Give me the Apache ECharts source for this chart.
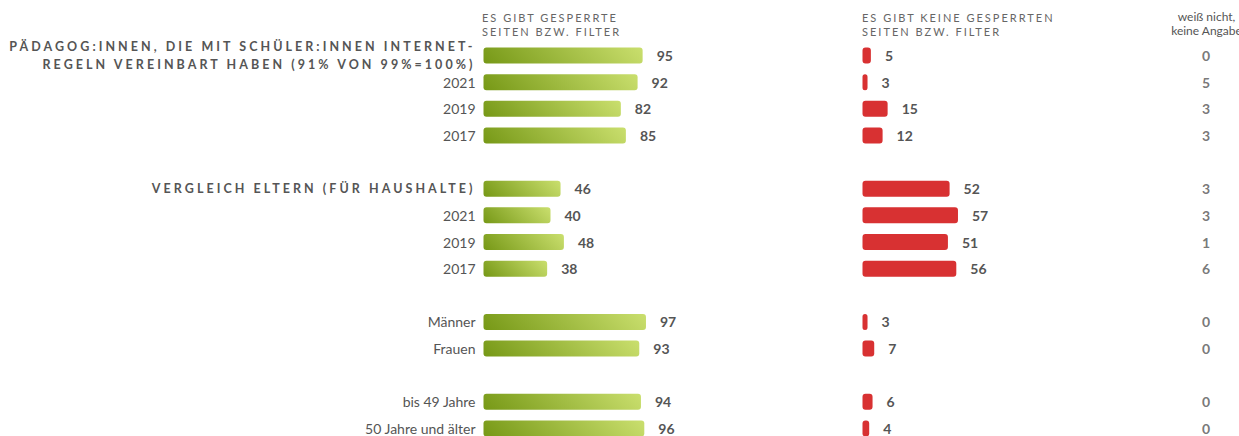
<!DOCTYPE html>
<html lang="de">
<head>
<meta charset="utf-8">
<title>Gesperrte Seiten bzw. Filter</title>
<script src="https://cdn.jsdelivr.net/npm/echarts@6/dist/echarts.min.js"></script>
<style>
  html, body { margin: 0; padding: 0; background: #ffffff; }
  #chart { width: 1239px; height: 436px; }
</style>
</head>
<body>
<div id="chart"></div>
<script>
// Row labels (empty strings are spacer rows between the groups)
const rowLabels = [
  'PÄDAGOG:INNEN, DIE MIT SCHÜLER:INNEN INTERNET-\nREGELN VEREINBART HABEN (91% VON 99%=100%)',
  '2021', '2019', '2017',
  '',
  'VERGLEICH ELTERN (FÜR HAUSHALTE)',
  '2021', '2019', '2017',
  '',
  'Männer', 'Frauen',
  '',
  'bis 49 Jahre', '50 Jahre und älter'
];
// Rows printed in bold capitals
const headlineRows = [0, 5];

// Column headings
const headGesperrt = 'ES GIBT GESPERRTE\nSEITEN BZW. FILTER';
const headKeine = 'ES GIBT KEINE GESPERRTEN\nSEITEN BZW. FILTER';
const headWeiss = 'weiß nicht,\nkeine Angabe';

// Pädagog:innen (gesamt, 2021, 2019, 2017)
const paedGesperrt = [95, 92, 82, 85];
const paedKeine    = [5, 3, 15, 12];
const paedWeiss    = [0, 5, 3, 3];

// Eltern (gesamt, 2021, 2019, 2017)
const elternGesperrt = [46, 40, 48, 38];
const elternKeine    = [52, 57, 51, 56];
const elternWeiss    = [3, 3, 1, 6];

// Geschlecht (Männer, Frauen)
const geschlGesperrt = [97, 93];
const geschlKeine    = [3, 7];
const geschlWeiss    = [0, 0];

// Alter (bis 49, 50+)
const alterGesperrt = [94, 96];
const alterKeine    = [6, 4];
const alterWeiss    = [0, 0];

// Joins the groups with an empty slot for each spacer row
function withGaps(groups) {
  const out = [];
  groups.forEach((g, i) => {
    if (i > 0) out.push('-');
    g.forEach(v => out.push(v));
  });
  return out;
}

const gesperrt = withGaps([paedGesperrt, elternGesperrt, geschlGesperrt, alterGesperrt]);
const keine    = withGaps([paedKeine, elternKeine, geschlKeine, alterKeine]);
const weiss    = withGaps([paedWeiss, elternWeiss, geschlWeiss, alterWeiss]);

const FONT = 'Lato, "Open Sans", sans-serif';
const TEXT = '#555555';

// Rows sit on the category ticks: first row centre to last row centre
const firstRowY = 55.5;
const lastRowY = 428.5;
const plotWidth = 167.5;
const barHeight = 16;

const grids = [
  { left: 483.5, width: plotWidth },
  { left: 862.5, width: plotWidth },
  { left: 1196, width: 20 }
].map(g => Object.assign(g, {
  top: firstRowY,
  height: lastRowY - firstRowY,
  outerBoundsMode: 'none',
  containLabel: false
}));

function hiddenValueAxis(gridIndex, max) {
  return {
    type: 'value', gridIndex, min: 0, max,
    show: false,
    axisLine: { show: false }, axisTick: { show: false },
    axisLabel: { show: false }, splitLine: { show: false }
  };
}

function categoryAxis(gridIndex, showLabels) {
  return {
    type: 'category', gridIndex, inverse: true,
    boundaryGap: false,
    data: rowLabels,
    axisLine: { show: false }, axisTick: { show: false },
    splitLine: { show: false },
    axisLabel: showLabels ? {
      show: true,
      interval: 0,
      margin: 8,
      color: TEXT,
      fontFamily: FONT,
      fontSize: 14,
      align: 'right',
      formatter: (value, index) => {
        if (headlineRows.indexOf(index) >= 0) {
          return value.split('\n').map(l => '{b|' + l + '}').join('\n');
        }
        return value;
      },
      rich: {
        b: { fontFamily: FONT, fontWeight: 'bold', fontSize: 12.5, color: TEXT, lineHeight: 18, align: 'right' }
      }
    } : { show: false }
  };
}

// 45° green shading across each bar, dark lower left to light upper right.
// Gradient points are given in the bar's bounding-box units.
function greenShade(params) {
  const w = Math.max(1, params.value / 100 * plotWidth);
  const h = barHeight;
  const d = w * w + h * h;
  return new echarts.graphic.LinearGradient(
    -h * w / d, h * h / d,
    w * w / d, -h * w / d,
    [
      { offset: 0, color: '#769816' },
      { offset: 1, color: '#cadf6e' }
    ]
  );
}

const valueLabel = {
  show: true,
  position: 'right',
  distance: 14,
  color: TEXT,
  fontFamily: FONT,
  fontWeight: 'bold',
  fontSize: 14,
  formatter: '{c}'
};

const option = {
  animation: false,
  backgroundColor: '#ffffff',
  textStyle: { fontFamily: FONT },
  grid: grids,
  xAxis: [hiddenValueAxis(0, 100), hiddenValueAxis(1, 100), hiddenValueAxis(2, 1)],
  yAxis: [categoryAxis(0, true), categoryAxis(1, false), categoryAxis(2, false)],
  series: [
    {
      name: 'es gibt gesperrte Seiten bzw. Filter',
      type: 'bar', xAxisIndex: 0, yAxisIndex: 0,
      data: gesperrt,
      barWidth: barHeight,
      clip: false,
      itemStyle: { borderRadius: 3, color: greenShade },
      label: valueLabel
    },
    {
      name: 'es gibt keine gesperrten Seiten bzw. Filter',
      type: 'bar', xAxisIndex: 1, yAxisIndex: 1,
      data: keine,
      barWidth: barHeight,
      clip: false,
      itemStyle: { borderRadius: 3, color: '#d83132' },
      label: valueLabel
    },
    {
      name: 'weiß nicht, keine Angabe',
      type: 'scatter', xAxisIndex: 2, yAxisIndex: 2,
      symbolSize: 0,
      clip: false,
      data: weiss.map((v, i) => v === '-' ? null : [0.5, i, v]).filter(d => d),
      label: {
        show: true,
        position: 'inside',
        color: TEXT,
        fontFamily: FONT,
        fontWeight: 'bold',
        fontSize: 14,
        formatter: p => String(p.value[2])
      }
    }
  ],
  graphic: [
    {
      type: 'text', x: 482, y: 10,
      style: {
        text: headGesperrt, fill: '#666666', font: '11px ' + FONT,
        lineHeight: 14.5, align: 'left', verticalAlign: 'top'
      }
    },
    {
      type: 'text', x: 862, y: 10,
      style: {
        text: headKeine, fill: '#666666', font: '11px ' + FONT,
        lineHeight: 14.5, align: 'left', verticalAlign: 'top'
      }
    },
    {
      type: 'text', x: 1206.5, y: 9,
      style: {
        text: headWeiss, fill: TEXT, font: '12px ' + FONT,
        lineHeight: 14.5, align: 'center', verticalAlign: 'top'
      }
    }
  ]
};

const chart = echarts.init(document.getElementById('chart'), null, { renderer: 'svg' });
chart.setOption(option);

// Capitalised headings are set with wide tracking (bold row titles wider still)
function trackCapitals() {
  const texts = document.querySelectorAll('#chart text');
  texts.forEach(t => {
    const s = (t.textContent || '').trim();
    if (/[A-ZÄÖÜ]{2,}/.test(s) && s === s.toUpperCase()) {
      const st = (t.getAttribute('style') || '') + ' ' + (t.getAttribute('font-weight') || '');
      t.setAttribute('letter-spacing', /bold/.test(st) ? '3.05' : '2');
    }
  });
}
trackCapitals();
chart.on('finished', trackCapitals);
</script>
</body>
</html>
